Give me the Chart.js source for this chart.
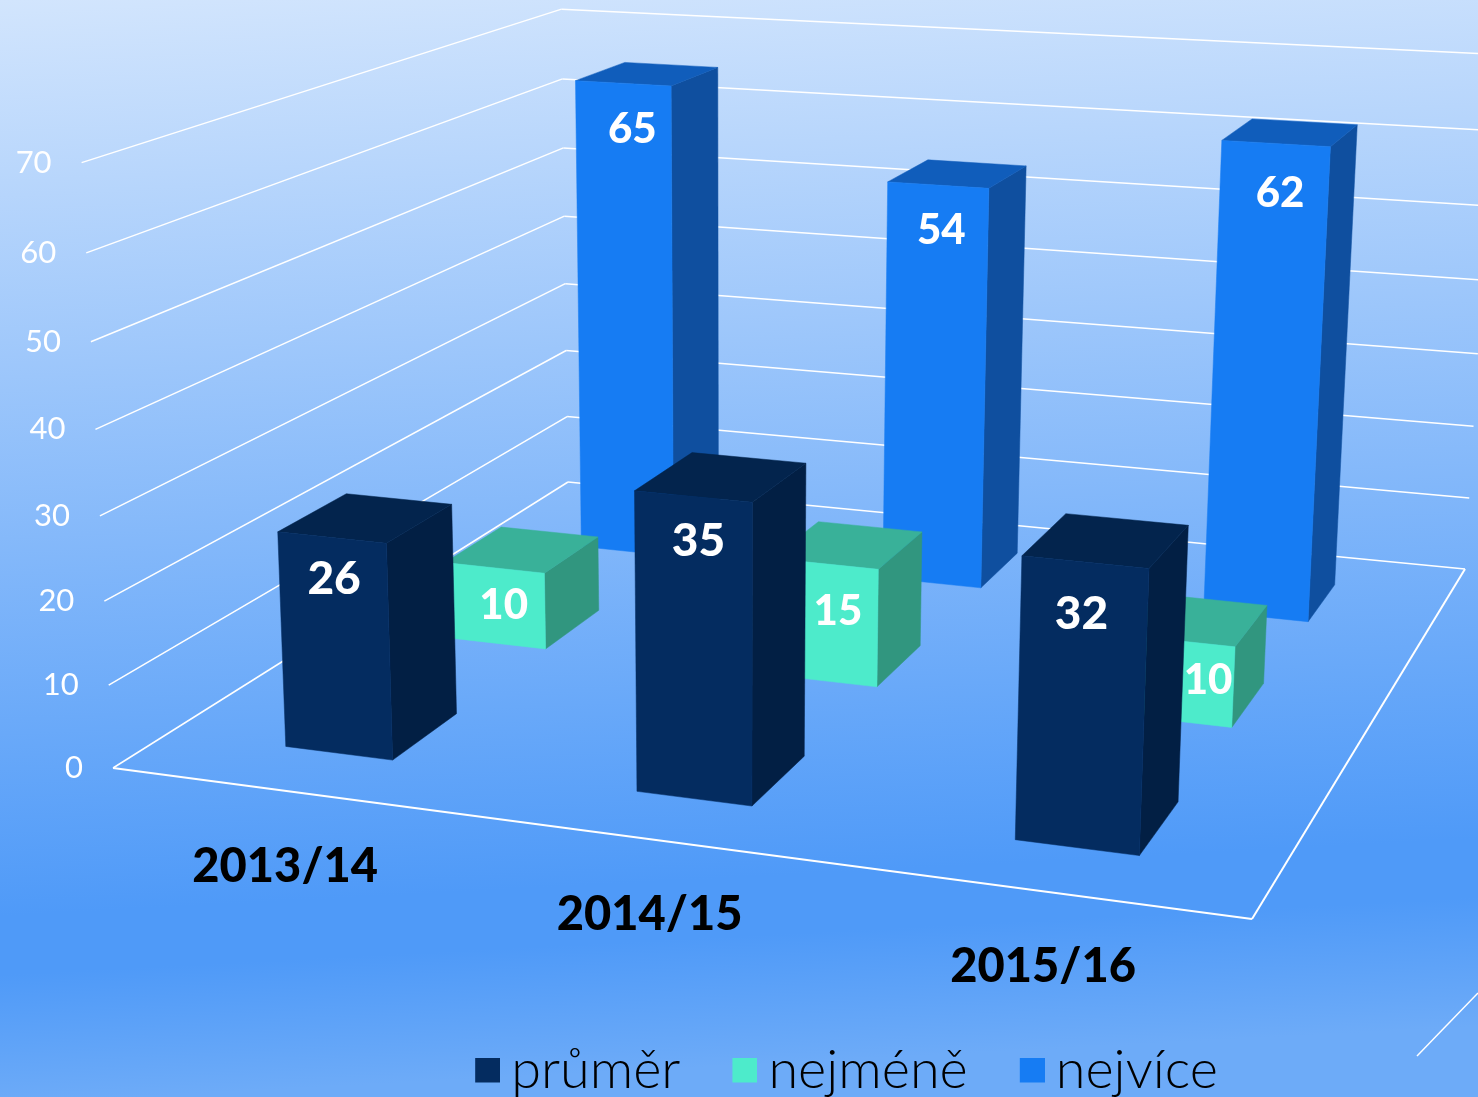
<!DOCTYPE html>
<html lang="cs">
<head>
<meta charset="utf-8">
<title>Graf</title>
<script src="https://cdn.jsdelivr.net/npm/chart.js@4"></script>
<style>
    html, body { margin: 0; padding: 0; }
    body { width: 1478px; height: 1097px; overflow: hidden; background: linear-gradient(177deg, #d2e5fd 0, #4f9af8 78%, #4f9af8 83%, #6dabf8 94%); }
    canvas { display: block; }
</style>
</head>
<body>
<canvas id="graf" width="1478" height="1097"></canvas>
<script>
const categories = ['2013/14', '2014/15', '2015/16'];
const prumer = [26, 35, 32];
const nejmene = [10, 15, 10];
const nejvice = [65, 54, 62];
const seriesNames = ['průměr', 'nejméně', 'nejvíce'];
const axisMax = 70;
const axisStep = 10;

const FONT = 'Lato, "Open Sans", sans-serif';
const faces = [
    { front: '#042c60', side: '#021f44', top: '#03244d' },
    { front: '#4debcb', side: '#31967f', top: '#39b199' },
    { front: '#167cf3', side: '#0f4f9f', top: '#105dbb' }
];

// corners of the floor and the top of the walls
const frontLeft = [113, 768], frontRight = [1252, 919], backRight = [1465, 569], backLeft = [568, 482];
const topFrontLeft = [82, 161], topBackLeft = [561, 8], topBackRight = [1496, 57];

// unit square -> floor
function floorMatrix() {
    const [x0, y0] = frontLeft, [x1, y1] = frontRight, [x2, y2] = backRight, [x3, y3] = backLeft;
    const dx1 = x1 - x2, dx2 = x3 - x2, sx = x0 - x1 + x2 - x3;
    const dy1 = y1 - y2, dy2 = y3 - y2, sy = y0 - y1 + y2 - y3;
    const den = dx1 * dy2 - dx2 * dy1;
    const g = (sx * dy2 - dx2 * sy) / den;
    const h = (dx1 * sy - sx * dy1) / den;
    return [x1 - x0 + g * x1, x3 - x0 + h * x3, x0, y1 - y0 + g * y1, y3 - y0 + h * y3, y0, g, h, 1];
}
const F = floorMatrix();
const floorPoint = (u, w) => [F[0] * u + F[1] * w + F[2], F[3] * u + F[4] * w + F[5], F[6] * u + F[7] * w + F[8]];

// vertical column of the camera, least squares on the wall tops
function verticalColumn() {
    const rows = [];
    [[0, 0, topFrontLeft], [0, 1, topBackLeft], [1, 1, topBackRight]].forEach(([u, w, s]) => {
        const p = floorPoint(u, w);
        rows.push([axisMax, 0, -axisMax * s[0], s[0] * p[2] - p[0]]);
        rows.push([0, axisMax, -axisMax * s[1], s[1] * p[2] - p[1]]);
    });
    const m = [0, 1, 2].map(i => [0, 1, 2, 3].map(j => rows.reduce((sum, r) => sum + r[i] * r[j], 0)));
    for (let i = 0; i < 3; i++) {
        let best = i;
        for (let k = i + 1; k < 3; k++) if (Math.abs(m[k][i]) > Math.abs(m[best][i])) best = k;
        [m[i], m[best]] = [m[best], m[i]];
        for (let k = 0; k < 3; k++) {
            if (k === i) continue;
            const f = m[k][i] / m[i][i];
            for (let j = i; j < 4; j++) m[k][j] -= f * m[i][j];
        }
    }
    return [m[0][3] / m[0][0], m[1][3] / m[1][1], m[2][3] / m[2][2]];
}
const V = verticalColumn();

function project(u, w, value) {
    const p = floorPoint(u, w);
    const d = p[2] + value * V[2];
    return [(p[0] + value * V[0]) / d, (p[1] + value * V[1]) / d];
}

function poly(ctx, points, color) {
    ctx.beginPath();
    points.forEach((p, i) => i ? ctx.lineTo(p[0], p[1]) : ctx.moveTo(p[0], p[1]));
    ctx.closePath();
    ctx.fillStyle = color;
    ctx.strokeStyle = color;
    ctx.lineWidth = 0.5;
    ctx.fill();
    ctx.stroke();
}

function line(ctx, a, b, width) {
    ctx.beginPath();
    ctx.moveTo(a[0], a[1]);
    ctx.lineTo(b[0], b[1]);
    ctx.lineWidth = width;
    ctx.strokeStyle = '#ffffff';
    ctx.stroke();
}

const rowCount = seriesNames.length;
const rowDepth = 0.395 / rowCount;
// label offset from the middle of the bar's top front edge
const labelNudge = [
    [[2, 42], [5, 45], [-4, 52]],
    [[9, 38], [13, 48], [30, 40]],
    [[9, 46], [3, 45], [4, 50]]
];
const labelSize = [46, 42, 42];

const perspective = {
    id: 'perspective',
    beforeDatasetsDraw(chart) {
        const ctx = chart.ctx, area = chart.chartArea, yScale = chart.scales.y;
        ctx.save();

        // walls, floor, axis labels
        yScale.ticks.forEach(tick => {
            const a = project(0, 0, tick.value), b = project(0, 1, tick.value), c = project(1, 1, tick.value);
            line(ctx, a, b, 1.5);
            line(ctx, b, c, 1.5);
            ctx.font = '400 31px ' + FONT;
            ctx.fillStyle = '#ffffff';
            ctx.textAlign = 'right';
            ctx.textBaseline = 'middle';
            ctx.fillText(tick.label, a[0] - 30, a[1]);
        });
        line(ctx, project(0, 0, 0), project(1, 0, 0), 2);
        line(ctx, project(1, 0, 0), project(1, 1, 0), 2);
        line(ctx, [1417, 1056], [1478, 993], 1.5);

        const xScale = chart.scales.x;
        categories.forEach((name, i) => {
            const p = project((xScale.getPixelForValue(i) - area.left) / area.width, 0, 0);
            ctx.font = '900 47px ' + FONT;
            ctx.fillStyle = '#000000';
            ctx.textAlign = 'center';
            ctx.textBaseline = 'middle';
            ctx.fillText(name, p[0], p[1] + 76);
        });

        // bars, far row first
        const labels = [];
        for (let ds = chart.data.datasets.length - 1; ds >= 0; ds--) {
            const w0 = (ds + 0.5) / rowCount - rowDepth / 2, w1 = w0 + rowDepth;
            chart.getDatasetMeta(ds).data.forEach((bar, i) => {
                const u0 = (bar.x - bar.width / 2 - area.left) / area.width;
                const u1 = (bar.x + bar.width / 2 - area.left) / area.width;
                const value = yScale.getValueForPixel(bar.y);
                const face = faces[ds];
                poly(ctx, [project(u1, w0, 0), project(u1, w1, 0), project(u1, w1, value), project(u1, w0, value)], face.side);
                poly(ctx, [project(u0, w0, value), project(u1, w0, value), project(u1, w1, value), project(u0, w1, value)], face.top);
                poly(ctx, [project(u0, w0, 0), project(u1, w0, 0), project(u1, w0, value), project(u0, w0, value)], face.front);
                const a = project(u0, w0, value), b = project(u1, w0, value);
                labels.push({
                    text: String(chart.data.datasets[ds].data[i]),
                    size: labelSize[ds],
                    x: (a[0] + b[0]) / 2 + labelNudge[ds][i][0],
                    y: (a[1] + b[1]) / 2 + labelNudge[ds][i][1]
                });
            });
        }
        labels.forEach(l => {
            ctx.font = '900 ' + l.size + 'px ' + FONT;
            ctx.fillStyle = '#ffffff';
            ctx.textAlign = 'center';
            ctx.textBaseline = 'middle';
            ctx.fillText(l.text, l.x, l.y);
        });
        ctx.restore();
        return false;
    }
};

function swatch(color) {
    const c = document.createElement('canvas');
    c.width = 33;
    c.height = 27;
    const g = c.getContext('2d');
    g.fillStyle = color;
    g.fillRect(8, 0, 25, 25);
    return c;
}

new Chart(document.getElementById('graf'), {
    type: 'bar',
    data: {
        labels: categories,
        datasets: [prumer, nejmene, nejvice].map((data, i) => ({
            label: seriesNames[i],
            data: data,
            backgroundColor: faces[i].front
        }))
    },
    options: {
        responsive: false,
        animation: false,
        grouped: false,
        barPercentage: 0.312,
        categoryPercentage: 1,
        layout: { padding: { left: 223, bottom: -11 } },
        scales: {
            x: { display: false },
            y: { display: false, min: 0, max: axisMax, ticks: { stepSize: axisStep } }
        },
        plugins: {
            tooltip: { enabled: false },
            legend: {
                position: 'bottom',
                labels: {
                    usePointStyle: true,
                    pointStyleWidth: 1,
                    padding: 60,
                    color: '#000000',
                    font: { family: FONT, size: 54, weight: '300' },
                    generateLabels: chart => chart.data.datasets.map((d, i) => ({
                        text: d.label,
                        fillStyle: d.backgroundColor,
                        strokeStyle: d.backgroundColor,
                        lineWidth: 0,
                        pointStyle: swatch(d.backgroundColor),
                        datasetIndex: i
                    }))
                }
            }
        }
    },
    plugins: [perspective]
});
</script>
</body>
</html>
